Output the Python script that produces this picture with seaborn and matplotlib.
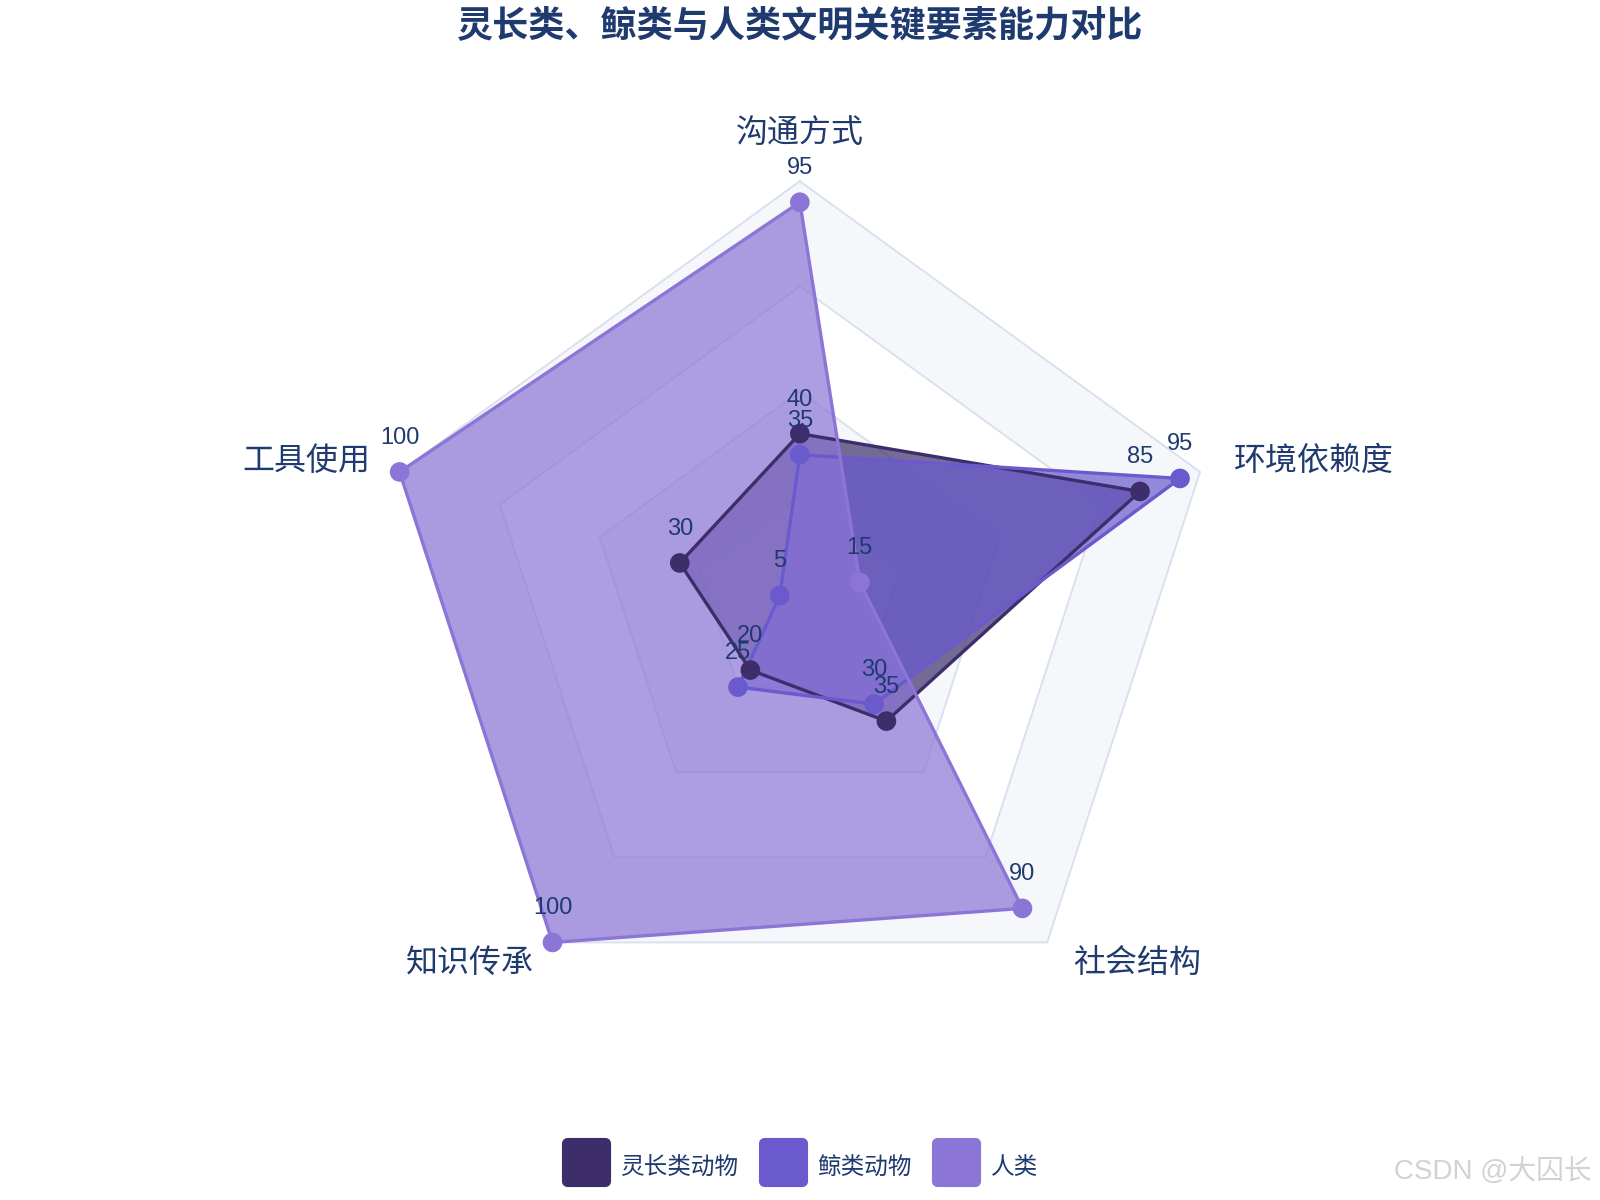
import numpy as np
import pandas as pd
import matplotlib.pyplot as plt
import seaborn as sns
from matplotlib.lines import Line2D
from matplotlib.markers import MarkerStyle

# 数据
categories = ['沟通方式', '环境依赖度', '社会结构', '知识传承', '工具使用']
species = ['灵长类动物', '鲸类动物', '人类']
primate_scores = [40, 85, 35, 20, 30]
whale_scores = [35, 95, 30, 25, 5]
human_scores = [95, 15, 90, 100, 100]
grid_levels = [100, 75, 50, 25]

colors = ['#3d2e6b', '#6a5acd', '#8b75d6']
navy = '#1f3a6e'

theta = np.linspace(0, 2 * np.pi, len(categories), endpoint=False)
df = pd.DataFrame({
    '指标': categories * 3,
    '物种': np.repeat(species, len(categories)),
    '得分': primate_scores + whale_scores + human_scores,
    'theta': np.tile(theta, 3),
})

sns.set_theme(style='white')
plt.rcParams['font.family'] = ['Liberation Sans', 'Noto Sans CJK SC', 'DejaVu Sans']

fig = plt.figure(figsize=(16, 12), dpi=100)
ax = fig.add_axes([0.2369, 0.1475, 0.526, 0.7017], projection='polar')
ax.set_theta_zero_location('N')
ax.set_theta_direction(-1)
ax.set_ylim(0, 100)
ax.axis('off')

closed = np.append(theta, theta[0])

# 五边形背景网格（交替色带）
for i, lvl in enumerate(grid_levels):
    face = '#f5f7fb' if i % 2 == 0 else 'white'
    ax.fill(closed, [lvl] * len(closed), color=face, lw=0, zorder=0.5)
    ax.plot(closed, [lvl] * len(closed), color='#d9e1ef', lw=1.4, zorder=0.8, clip_on=False)

# 各物种多边形
for name, color in zip(species, colors):
    vals = df.loc[df['物种'] == name, '得分'].tolist()
    vals.append(vals[0])
    ax.fill(closed, vals, color=color, alpha=0.7, lw=0, zorder=1, clip_on=False)
    ax.plot(closed, vals, color=color, lw=2.4, zorder=2, clip_on=False)

sns.scatterplot(data=df, x='theta', y='得分', hue='物种', palette=colors,
                s=200, edgecolor='none', legend=False, ax=ax, zorder=3)
ax.collections[-1].set_clip_on(False)
ax.set_ylim(0, 100)

# 数值标签（与原图一样，相近的值会互相重叠）
for row in df.itertuples():
    ax.annotate(str(row.得分), (row.theta, row.得分), xytext=(0, 34),
                textcoords='offset pixels', ha='center', va='center',
                fontsize=17, color=navy, zorder=4, annotation_clip=False)

# 维度标签
label_offsets = [(0, 47), (114, 10), (90, -22), (-83, -22), (-93, 10)]
for t, cat, off in zip(theta, categories, label_offsets):
    ax.annotate(cat, (t, 100), xytext=off, textcoords='offset pixels',
                ha='center', va='center', fontsize=23, color=navy,
                annotation_clip=False)

fig.text(0.5, 0.978, '灵长类、鲸类与人类文明关键要素能力对比', ha='center', va='center',
         fontsize=26, fontweight='bold', color=navy)

handles = [Line2D([], [], ls='none', marker=MarkerStyle('s', joinstyle='round'),
                  ms=27, mew=8, color=c, mec=c) for c in colors]
leg = fig.legend(handles, species, loc='center', bbox_to_anchor=(0.5, 0.0275), ncol=3,
                 frameon=False, fontsize=17, handlelength=2.0, handleheight=2.0,
                 handletextpad=0.45, columnspacing=0.9)
for txt in leg.get_texts():
    txt.set_color(navy)

fig.text(0.995, 0.024, 'CSDN @大囚长', ha='right', va='center', fontsize=20, color='#d2d2d2')

plt.savefig('out.png', dpi=100)
plt.close()
